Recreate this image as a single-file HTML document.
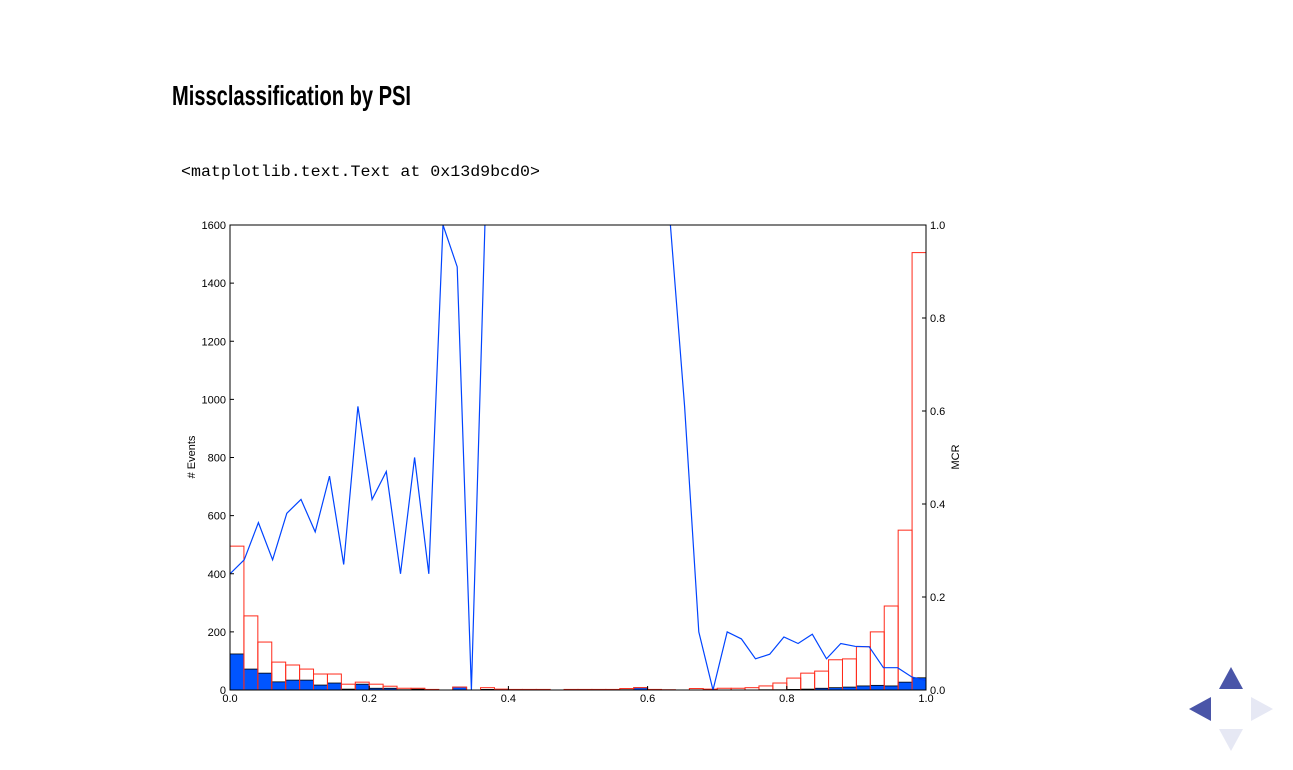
<!DOCTYPE html>
<html><head><meta charset="utf-8"><style>
html,body{margin:0;padding:0;background:#fff;width:1293px;height:770px;overflow:hidden}
svg{display:block}
</style></head><body>
<svg id="root" width="1293" height="770" viewBox="0 0 1293 770" xmlns="http://www.w3.org/2000/svg">
<text x="172" y="105" font-family="'Liberation Sans Narrow','Liberation Sans',sans-serif" font-weight="bold" font-size="28" textLength="239" lengthAdjust="spacingAndGlyphs" fill="#000">Missclassification by PSI</text>
<text x="181" y="176" font-family="'Liberation Mono',monospace" font-size="16" textLength="359" lengthAdjust="spacingAndGlyphs" fill="#000">&lt;matplotlib.text.Text at 0x13d9bcd0&gt;</text>
<defs><clipPath id="plotclip"><rect x="230" y="225" width="696" height="465"/></clipPath></defs>
<g id="bars-blue"></g>
<g id="bars-red"></g>
<g id="mcr" clip-path="url(#plotclip)"></g>
<rect x="230" y="225" width="696" height="465" fill="none" stroke="#000" stroke-width="1"/>
<g id="ticks" font-family="'Liberation Sans',sans-serif" font-size="11" fill="#000"></g>
<text transform="translate(195,457) rotate(-90)" text-anchor="middle" font-family="'Liberation Sans',sans-serif" font-size="11"># Events</text>
<text transform="translate(959,457) rotate(-90)" text-anchor="middle" font-family="'Liberation Sans',sans-serif" font-size="11">MCR</text>
<polygon points="1219,689 1243,689 1231,667" fill="#4a55a8"/>
<polygon points="1189,709 1211,697 1211,721" fill="#4a55a8"/>
<polygon points="1273,709 1251,697 1251,721" fill="#e6e8f4"/>
<polygon points="1219,729 1243,729 1231,751" fill="#e6e8f4"/>
</svg>
<script>
const totals=[495,255,165,96,86,72,55,55,20,27,20,13,6,6,2,0,10,0,8,3,2,2,2,0,2,2,2,2,5,8,2,1,0,5,3,6,6,8,14,24,41,58,65,104,107,149,200,289,550,1505];
const misclassified=[124,72,58,28,34,34,17,24,3,20,6,6,1,3,0,0,10,0,2,1,1,0,0,0,0,0,0,0,1,8,1,0,0,0,0,0,0,0,1,1,2,3,6,8,10,14,16,14,27,42];
const mcrX=[0,0.0204,0.0408,0.0612,0.0816,0.102,0.1224,0.1429,0.1633,0.1837,0.2041,0.2245,0.2449,0.2653,0.2857,0.3061,0.3265,0.3469,0.3673,0.3878,0.4082,0.4286,0.449,0.4694,0.4898,0.5102,0.5306,0.551,0.5714,0.5918,0.6122,0.6327,0.6531,0.6735,0.6939,0.7143,0.7347,0.7551,0.7755,0.7959,0.8163,0.8367,0.8571,0.8776,0.898,0.9184,0.9388,0.9592,0.9796,1.0];
const mcrY=[0.25,0.28,0.36,0.28,0.38,0.41,0.34,0.46,0.27,0.61,0.41,0.47,0.25,0.50,0.25,1.0,0.91,0,1.05,1.5,1.5,1.5,1.5,1.5,1.5,1.5,1.5,1.5,1.5,1.5,1.5,1.0,0.61,0.125,0,0.125,0.11,0.067,0.077,0.114,0.10,0.12,0.067,0.10,0.094,0.093,0.048,0.048,0.028,0.02];
const leftTicks=[0,200,400,600,800,1000,1200,1400,1600];
const rightTicks=["0.0","0.2","0.4","0.6","0.8","1.0"];
const xTicks=["0.0","0.2","0.4","0.6","0.8","1.0"];
const NS="http://www.w3.org/2000/svg";
const X0=230,X1=926,Y0=690,Y1=225;
const xs=v=>X0+v*(X1-X0);
const yl=v=>Y0-v/1600*(Y0-Y1);
const yr=v=>Y0-v*(Y0-Y1);
const bw=(X1-X0)/totals.length;
function mk(tag,attrs,parent){const e=document.createElementNS(NS,tag);for(const k in attrs)e.setAttribute(k,attrs[k]);parent.appendChild(e);return e;}
const gb=document.getElementById('bars-blue'),gr=document.getElementById('bars-red');
misclassified.forEach((v,i)=>{if(v<=0)return;const r=mk('rect',{x:X0+i*bw,y:yl(v),width:bw,height:Y0-yl(v),fill:'#0055ff',stroke:'#000','stroke-width':0.8},gb);

});
totals.forEach((v,i)=>{if(v<=0)return;const r=mk('rect',{x:X0+i*bw,y:yl(v),width:bw,height:Y0-yl(v),fill:'none',stroke:'#ff2a1a','stroke-width':1},gr);

});
const pts=mcrX.map((x,i)=>xs(x).toFixed(1)+','+yr(mcrY[i]).toFixed(1)).join(' ');
const pl=mk('polyline',{points:pts,fill:'none',stroke:'#0044ff','stroke-width':1.2},document.getElementById('mcr'));


const gt=document.getElementById('ticks');
leftTicks.forEach(v=>{const y=yl(v);mk('line',{x1:X0,x2:X0+4,y1:y,y2:y,stroke:'#000'},gt);
const t=mk('text',{x:X0-4,y:y+4,'text-anchor':'end'},gt);t.textContent=v;

});
rightTicks.forEach(s=>{const y=yr(parseFloat(s));mk('line',{x1:X1-4,x2:X1,y1:y,y2:y,stroke:'#000'},gt);
const t=mk('text',{x:X1+4,y:y+4,'text-anchor':'start'},gt);t.textContent=s;

});
xTicks.forEach(s=>{const x=xs(parseFloat(s));mk('line',{x1:x,x2:x,y1:Y0,y2:Y0-4,stroke:'#000'},gt);
const t=mk('text',{x:x,y:Y0+12,'text-anchor':'middle'},gt);t.textContent=s;

});
</script>
</body></html>
